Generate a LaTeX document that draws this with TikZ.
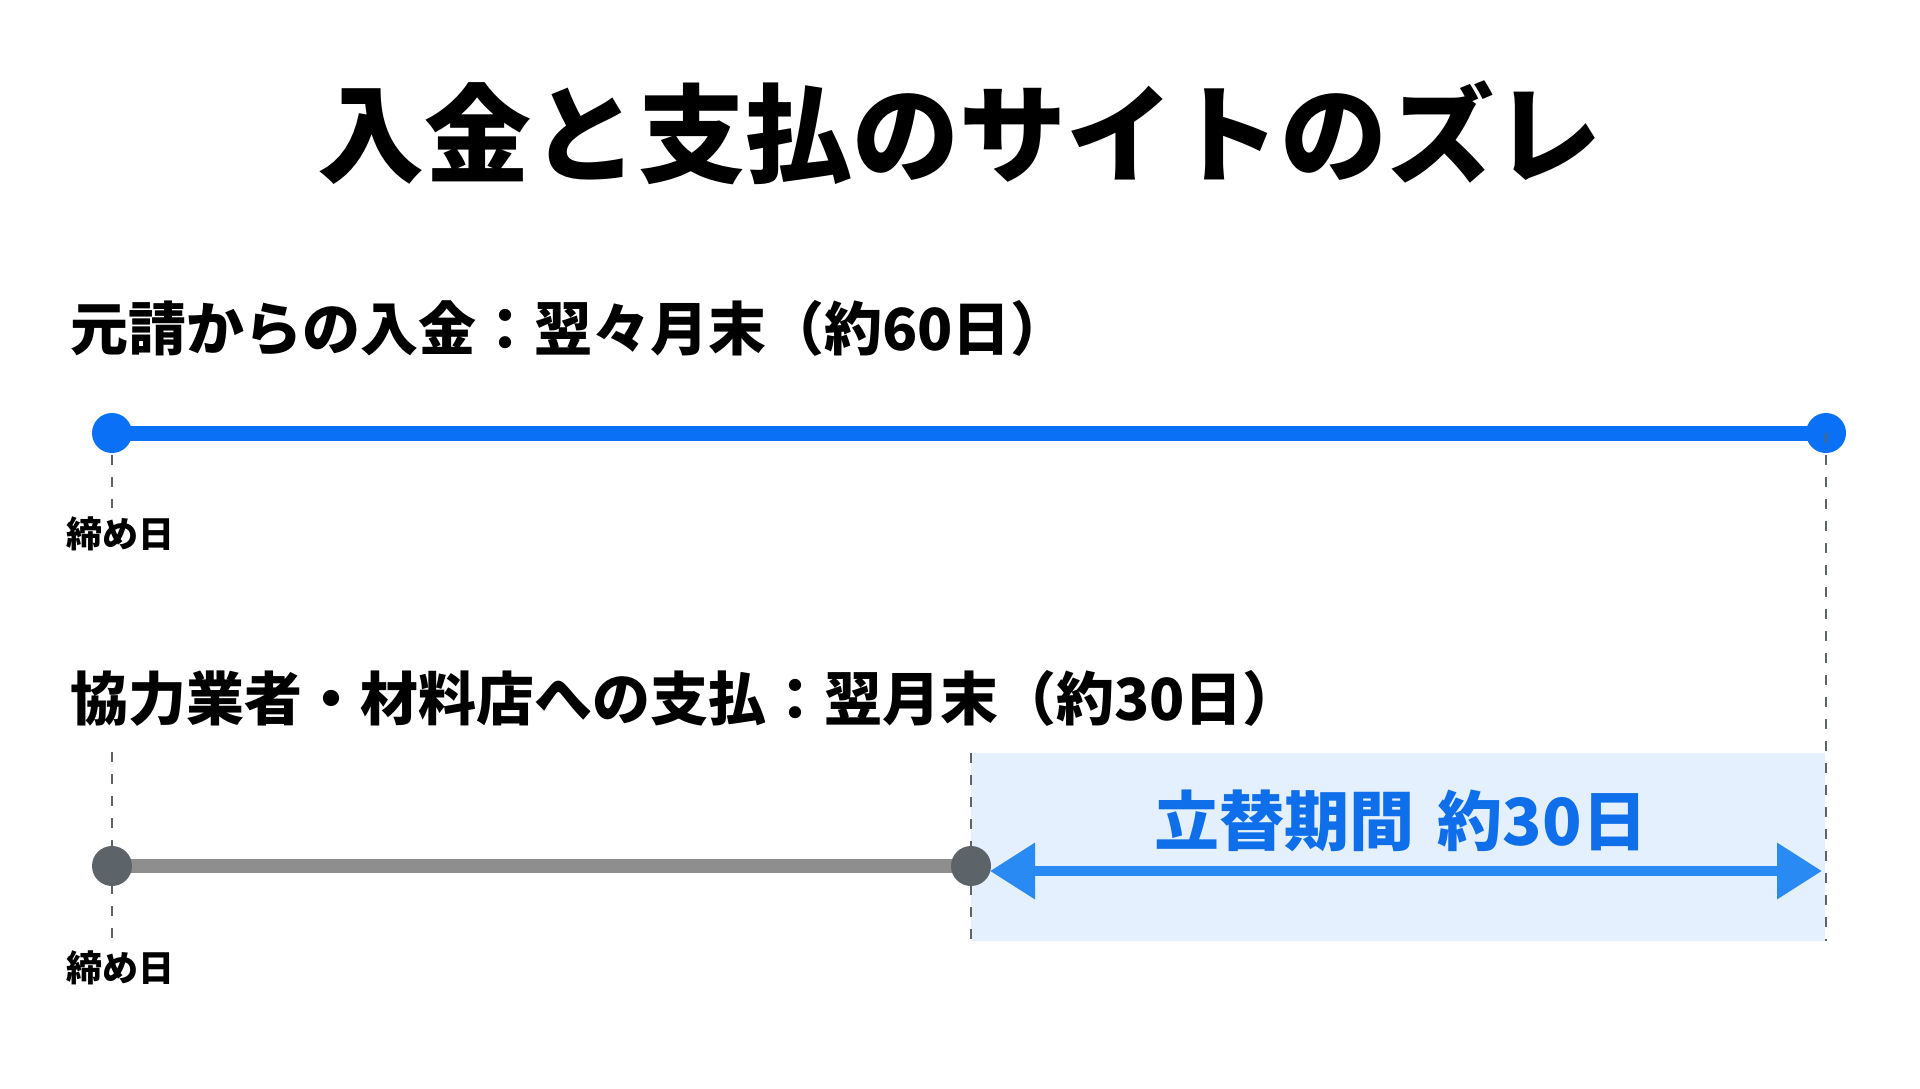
\documentclass[tikz,border=0pt]{standalone}
\usepackage{fontspec}
\newfontfamily\jp{Noto Sans CJK JP}
\usetikzlibrary{arrows.meta}
\definecolor{mainblue}{HTML}{0A70F5}
\definecolor{arrowblue}{HTML}{2A8AF3}
\definecolor{textblue}{HTML}{0F6FEA}
\definecolor{shadeblue}{HTML}{E4F0FD}
\definecolor{dashgray}{HTML}{5F6368}
\definecolor{linegray}{HTML}{8E8E8E}
\definecolor{dotgray}{HTML}{5C6469}
\begin{document}
\begin{tikzpicture}[x=1pt,y=-1pt,
  dashline/.style={draw=dashgray,line width=2.5pt,dash pattern=on 10pt off 12pt},
  bluedot/.style={circle,fill=mainblue,minimum size=40pt,inner sep=0pt},
  graydot/.style={circle,fill=dotgray,minimum size=40pt,inner sep=0pt},
  heading/.style={font=\jp\bfseries\fontsize{58}{64}\selectfont,anchor=west,inner sep=0pt,text=black},
  smalllabel/.style={font=\jp\bfseries\fontsize{36}{40}\selectfont,inner sep=0pt,text=black}
]
\useasboundingbox (0,0) rectangle (1920,1088);
\fill[white] (0,0) rectangle (1920,1088);
% title
\node[font=\jp\bfseries\fontsize{107}{120}\selectfont,inner sep=0pt] (title) at (959,133) {入金と支払のサイトのズレ};
% row 1
\node[heading] (h1) at (70,328) {元請からの入金：翌々月末（約60日）};
\coordinate (a1) at (112,433);
\coordinate (a2) at (1826,433);
\coordinate (a1d) at (112,508);
\coordinate (a2d) at (1826,941);
\draw[dashline] (a1) -- (a1d);
\draw[dashline] (a2) -- (a2d);
\draw[mainblue,line width=15pt] (a1) -- (a2);
\node[bluedot] (d1) at (a1) {};
\node[bluedot] (d2) at (a2) {};
\node[smalllabel] (l1) at (120,534) {締め日};
% row 2
\node[heading] (h2) at (70,698) {協力業者・材料店への支払：翌月末（約30日）};
\fill[shadeblue] (971,753) rectangle (1825,941);
\coordinate (b1) at (112,866);
\coordinate (b2) at (971,866);
\coordinate (b1t) at (112,752);
\coordinate (b1d) at (112,938);
\coordinate (b2t) at (971,753);
\coordinate (b2d) at (971,941);
\draw[dashline] (b1t) -- (b1d);
\draw[dashline] (b2t) -- (b2d);
\draw[dashline] (a2) -- (a2d);
\draw[linegray,line width=14pt] (b1) -- (b2);
\node[graydot] (g1) at (b1) {};
\node[graydot] (g2) at (b2) {};
\coordinate (arrL) at (990,871);
\coordinate (arrR) at (1822,871);
\draw[arrowblue,line width=10pt,{Triangle[length=45pt,width=54pt]}-{Triangle[length=45pt,width=54pt]}] (arrL) -- (arrR);
\node[font=\jp\bfseries\fontsize{65}{70}\selectfont,text=textblue,inner sep=0pt] (span) at (1401,821) {立替期間\hspace{8pt} 約30日};
\node[smalllabel] (l2) at (120,968) {締め日};
\end{tikzpicture}
\end{document}
